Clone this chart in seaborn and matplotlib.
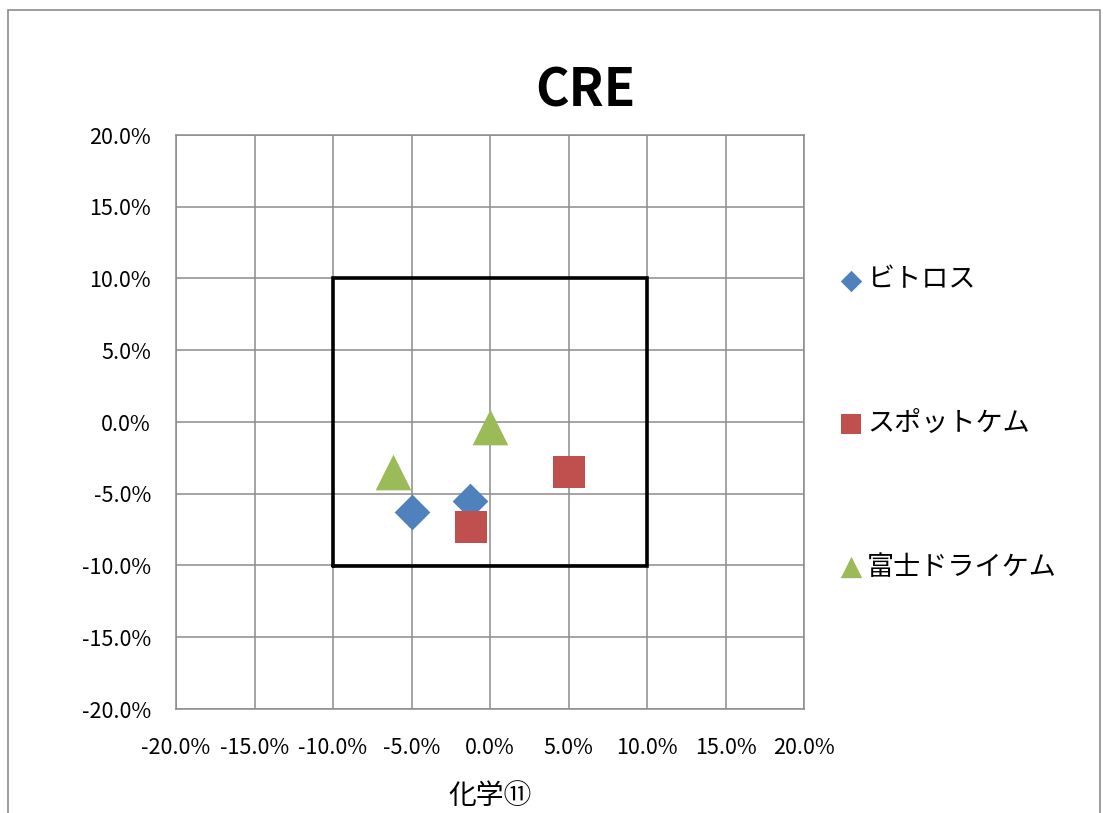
import pandas as pd
import matplotlib
matplotlib.use("Agg")
import matplotlib.pyplot as plt
import seaborn as sns
from matplotlib.ticker import PercentFormatter, MultipleLocator
from matplotlib.patches import Rectangle

# data
series_names = ["ビトロス", "スポットケム", "富士ドライケム"]
vitros_x = [-0.050, -0.0125]
vitros_y = [-0.063, -0.055]
spotchem_x = [0.050, -0.012]
spotchem_y = [-0.035, -0.073]
fuji_x = [-0.062, 0.0]
fuji_y = [-0.035, -0.0035]

box_limits = [-0.10, 0.10]
axis_limits = [-0.20, 0.20]
title = "CRE"
x_label = "化学⑪"

colors = {"ビトロス": "#4F81BD", "スポットケム": "#C0504D", "富士ドライケム": "#9BBB59"}
markers = {"ビトロス": "D", "スポットケム": "s", "富士ドライケム": "^"}
sizes = {"ビトロス": 330, "スポットケム": 560, "富士ドライケム": 660}

df = pd.DataFrame({
    "x": vitros_x + spotchem_x + fuji_x,
    "y": vitros_y + spotchem_y + fuji_y,
    "series": [series_names[0]] * len(vitros_x)
    + [series_names[1]] * len(spotchem_x)
    + [series_names[2]] * len(fuji_x),
})

sns.set_style("white")
plt.rcParams["font.family"] = ["Noto Sans CJK JP", "DejaVu Sans"]
plt.rcParams["axes.unicode_minus"] = False
plt.rcParams["text.color"] = "black"
plt.rcParams["axes.labelcolor"] = "black"
plt.rcParams["xtick.color"] = "black"
plt.rcParams["ytick.color"] = "black"

fig = plt.figure(figsize=(11.03, 8.13), dpi=100)
ax = fig.add_axes([176 / 1103, 1 - 709 / 813, 628 / 1103, 574 / 813])

for name in series_names:
    sub = df[df["series"] == name]
    sns.scatterplot(data=sub, x="x", y="y", ax=ax, color=colors[name],
                    marker=markers[name], s=sizes[name], linewidth=0,
                    label=name, zorder=4)

# reference box
ax.plot([box_limits[0], box_limits[1], box_limits[1], box_limits[0], box_limits[0]],
        [box_limits[0], box_limits[0], box_limits[1], box_limits[1], box_limits[0]],
        color="black", lw=2.6, zorder=3, solid_joinstyle="miter")

ax.set_xlim(axis_limits)
ax.set_ylim(axis_limits)
ax.xaxis.set_major_locator(MultipleLocator(0.05))
ax.yaxis.set_major_locator(MultipleLocator(0.05))
ax.xaxis.set_major_formatter(PercentFormatter(xmax=1, decimals=1))
ax.yaxis.set_major_formatter(PercentFormatter(xmax=1, decimals=1))
ax.grid(True, color="#8c8c8c", lw=1.1)
ax.set_axisbelow(True)
for sp in ax.spines.values():
    sp.set_color("#8c8c8c")
    sp.set_linewidth(1.1)
ax.tick_params(axis="both", length=0, labelsize=15.5)
ax.tick_params(axis="x", pad=20)
ax.tick_params(axis="y", pad=18)
ax.set_xlabel(x_label, fontsize=20, labelpad=16)
ax.set_ylabel("")

fig.text(585 / 1103, 1 - 91 / 813, title, fontsize=37, fontweight="bold",
         ha="center", va="center")

ax.get_legend().remove()
handles, labels = ax.get_legend_handles_labels()
fig.legend(handles, labels, loc="center left", bbox_to_anchor=(0.742, 0.479),
           frameon=False, fontsize=19.5, markerscale=0.6, handlelength=0.6,
           handletextpad=0.3, labelspacing=4.3)

# chart outer border
fig.patches.append(Rectangle((8 / 1103, -0.02), 1092 / 1103, 0.02 + (813 - 10) / 813,
                             transform=fig.transFigure, fill=False,
                             edgecolor="#8c8c8c", lw=1.2))

fig.savefig("out.png", dpi=100)
